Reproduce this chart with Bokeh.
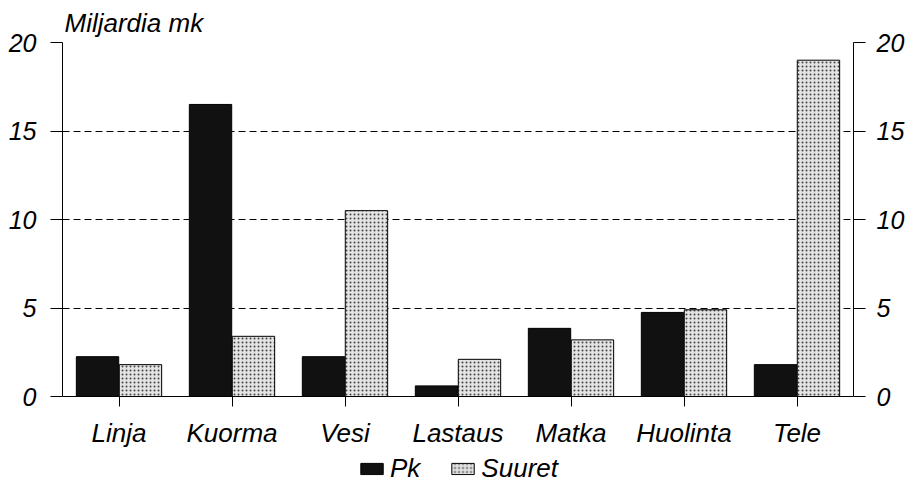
from bokeh.plotting import figure
from bokeh.layouts import column
from bokeh.models import (FactorRange, Range1d, LinearAxis, FixedTicker, Legend,
                          LegendItem, Title, ColumnDataSource)
from bokeh.transform import dodge
from bokeh.embed import file_html
from bokeh.resources import INLINE

categories = ["Linja", "Kuorma", "Vesi", "Lastaus", "Matka", "Huolinta", "Tele"]
pk = [2.25, 16.5, 2.25, 0.6, 3.85, 4.75, 1.8]
suuret = [1.8, 3.4, 10.5, 2.1, 3.2, 4.9, 19.0]
y_ticks = [0, 5, 10, 15, 20]
series_names = ["Pk", "Suuret"]

FONT = "Liberation Sans"
PK_STYLE = dict(fill_color="#111111", line_color="black", line_width=1)
SU_STYLE = dict(fill_color="#e4e4e4", line_color="black", line_width=1,
                hatch_pattern="dot", hatch_color="#444444", hatch_scale=4, hatch_weight=1)

src = ColumnDataSource(dict(cat=categories, pk=pk, suuret=suuret))

p = figure(width=907, height=452, x_range=FactorRange(*categories, range_padding=0),
           y_range=Range1d(0, 20), output_backend="svg", toolbar_location=None,
           min_border_left=62, min_border_right=45, min_border_top=42, min_border_bottom=56)
p.outline_line_color = None
p.background_fill_color = "white"
p.border_fill_color = "white"

p.vbar(x=dodge("cat", -0.19, range=p.x_range), top="pk", width=0.375, source=src, **PK_STYLE)
p.vbar(x=dodge("cat", 0.19, range=p.x_range), top="suuret", width=0.375, source=src, **SU_STYLE)

p.yaxis.ticker = FixedTicker(ticks=y_ticks)
right = LinearAxis(ticker=FixedTicker(ticks=y_ticks))
p.add_layout(right, "right")

for ax in p.yaxis:
    ax.major_tick_out = 12
    ax.major_tick_in = 0
    ax.minor_tick_line_color = None
    ax.axis_line_color = "black"
    ax.major_tick_line_color = "black"
    ax.major_label_text_font = FONT
    ax.major_label_text_font_style = "italic"
    ax.major_label_text_font_size = "25px"
    ax.major_label_text_color = "black"
p.yaxis[0].major_label_standoff = 14
right.major_label_standoff = 11

xa = p.xaxis[0]
xa.major_tick_out = 10
xa.major_tick_in = 0
xa.axis_line_color = "black"
xa.major_tick_line_color = "black"
xa.major_label_text_font = FONT
xa.major_label_text_font_style = "italic"
xa.major_label_text_font_size = "26px"
xa.major_label_text_color = "black"
xa.major_label_standoff = 11

p.xgrid.grid_line_color = None
p.ygrid.ticker = FixedTicker(ticks=[5, 10, 15, 20])
p.ygrid.grid_line_color = "black"
p.ygrid.grid_line_dash = "7 4"
p.ygrid.grid_line_width = 1

t = Title(text="Miljardia mk", align="left", text_font=FONT, text_font_style="italic",
          text_font_size="26px", text_color="black", offset=2, standoff=9)
p.add_layout(t, "above")

# legend strip below the chart: same data, drawn outside the visible y-range
p2 = figure(width=907, height=32, x_range=FactorRange(*categories, range_padding=0),
            y_range=Range1d(1000, 2000), output_backend="svg", toolbar_location=None,
            x_axis_type=None, y_axis_type=None,
            min_border_left=17, min_border_right=0, min_border_top=0, min_border_bottom=0)
p2.outline_line_color = None
p2.xgrid.visible = False
p2.ygrid.visible = False
e1 = p2.vbar(x="cat", top="pk", width=0.3, source=src, **PK_STYLE)
e2 = p2.vbar(x="cat", top="suuret", width=0.3, source=src, **SU_STYLE)
legend = Legend(items=[LegendItem(label=series_names[0], renderers=[e1], index=0),
                       LegendItem(label=series_names[1], renderers=[e2], index=0)],
                orientation="horizontal", location="center",
                label_text_font=FONT, label_text_font_style="italic",
                label_text_font_size="26px", label_text_color="black",
                glyph_width=28, glyph_height=14, spacing=28, padding=0, margin=0,
                border_line_color=None, background_fill_alpha=0, label_standoff=5)
p2.add_layout(legend, "center")

layout = column(p, p2, spacing=0)
open("out.html", "w").write(file_html(layout, INLINE))
